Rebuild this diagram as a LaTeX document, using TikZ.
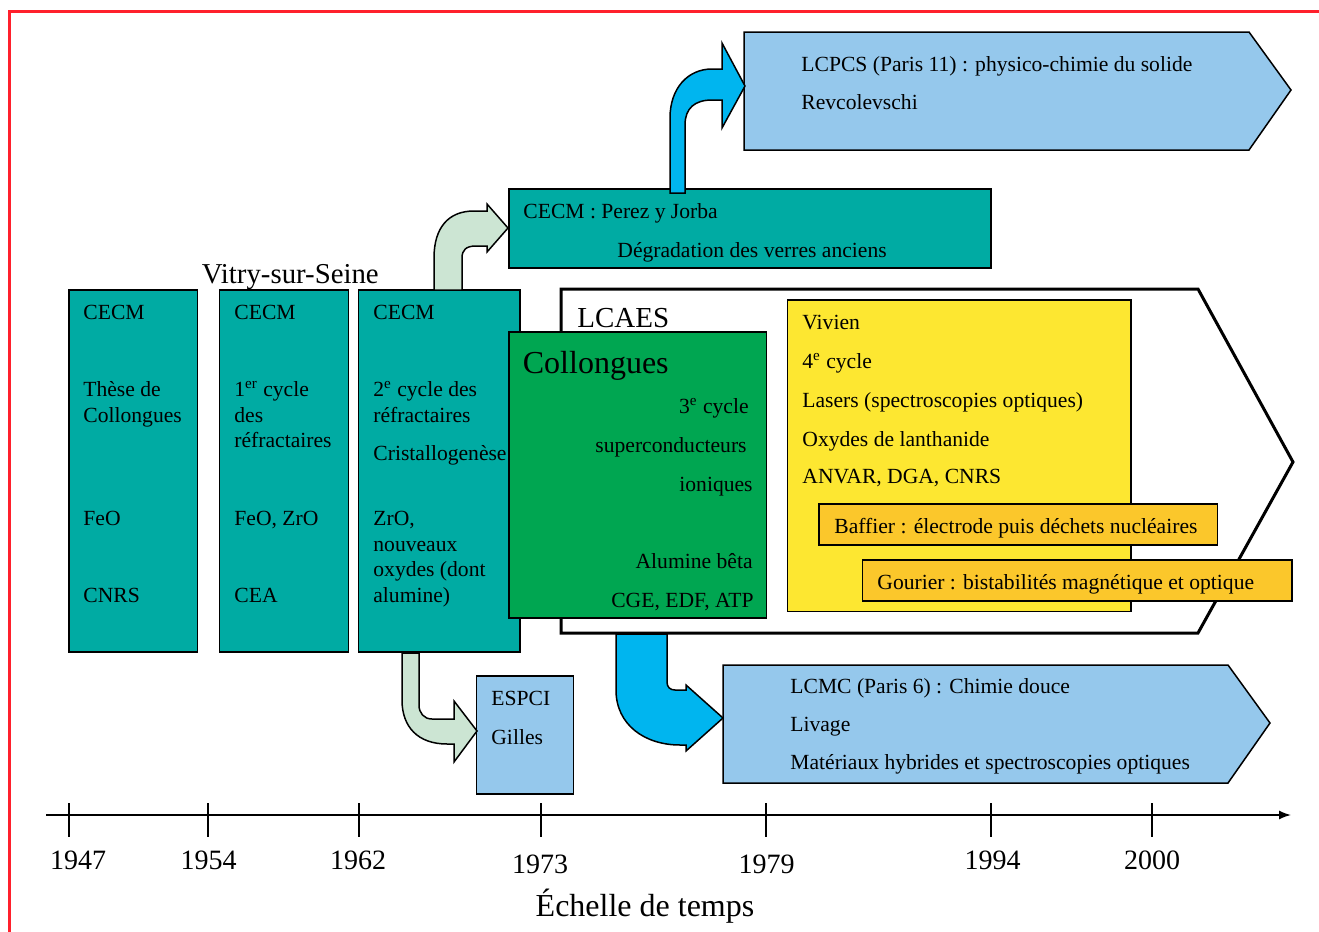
\documentclass[tikz,border=0pt]{standalone}
\usepackage{fontspec}
\setmainfont{Liberation Serif}
\usetikzlibrary{fit,arrows.meta}

\definecolor{cecmteal}{RGB}{0,171,163}
\definecolor{collgreen}{RGB}{0,166,81}
\definecolor{vivyellow}{RGB}{253,231,49}
\definecolor{teamorange}{RGB}{251,199,43}
\definecolor{labblue}{RGB}{149,200,236}
\definecolor{flowcyan}{RGB}{0,181,239}
\definecolor{flowmint}{RGB}{204,229,211}
\definecolor{framered}{RGB}{255,32,44}

\tikzset{
	box/.style={draw=black, line width=0.75pt, inner sep=0pt},
	txt/.style={anchor=base west, inner sep=0pt, font=\fontsize{10.8}{13}\selectfont},
	rtxt/.style={txt, anchor=base east},
	year/.style={anchor=base, inner sep=0pt, font=\fontsize{14}{16}\selectfont},
	fat/.style={line width=0.75pt, line join=miter},
}

\begin{document}
\begin{tikzpicture}[x=0.5pt,y=-0.5pt]
		\useasboundingbox (0,0) rectangle (1319,932);
		
		% Frame
		\draw[framered, line width=1.5pt] (9,932) -- (9,11.5) -- (1319,11.5);
		
		% Vitry-sur-Seine
		\node[txt, font=\fontsize{14.4}{16}\selectfont] (vitry) at (201.5,283) {Vitry-sur-Seine};
		
		% CECM 1947
		\node[box, fill=cecmteal, fit={(69,290) (197.5,652)}] (cecmA) {};
		\foreach \y/\t [count=\i] in {319.5/CECM, 396.5/Thèse de, 422/Collongues, 525.5/FeO, 602/CNRS}
			\node[txt] (cecmA-\i) at (83,\y) {\t};
		
		% CECM 1954
		\node[box, fill=cecmteal, fit={(219.5,290) (348.5,652)}] (cecmB) {};
		\foreach \y/\t [count=\i] in {319.5/CECM, 396.5/1\textsuperscript{er} cycle, 422/des, 447/réfractaires, 525.5/{FeO, ZrO}, 602/CEA}
			\node[txt] (cecmB-\i) at (234,\y) {\t};
		
		% CECM 1962
		\node[box, fill=cecmteal, fit={(358.5,290) (520,652)}] (cecmC) {};
		\foreach \y/\t [count=\i] in {319.5/CECM, 396.5/2\textsuperscript{e} cycle des, 422/réfractaires, 460/Cristallogenèse, 525.5/{ZrO,}, 551/nouveaux, 576/oxydes (dont, 602/alumine)}
			\node[txt] (cecmC-\i) at (373,\y) {\t};
		
		% CECM Perez y Jorba
		\node[box, fill=cecmteal, fit={(509,189) (991,268)}] (perez) {};
		\node[txt] (perez-1) at (523,218.5) {CECM : Perez y Jorba};
		\node[txt] (perez-2) at (617,257) {Dégradation des verres anciens};
		
		% LCPCS
		\filldraw[fill=labblue, line width=0.75pt] (744,32) -- (1249,32) -- (1291,90) -- (1249,150) -- (744,150) -- cycle;
		\node[txt] (lcpcs-1) at (801,71) {LCPCS (Paris 11) : physico-chimie du solide};
		\node[txt] (lcpcs-2) at (801,109.5) {Revcolevschi};
		
		% LCAES
		\filldraw[fill=white, line width=1.5pt] (561,289) -- (1198,289) -- (1293,462) -- (1198,633) -- (561,633) -- cycle;
		\node[txt, font=\fontsize{14.5}{16}\selectfont] (lcaes) at (577,327) {LCAES};
		
		% Collongues
		\node[box, fill=collgreen, fit={(509,332) (766.5,618)}] (coll) {};
		\node[txt, font=\fontsize{16}{18}\selectfont] (coll-0) at (522.5,373) {Collongues};
		\foreach \x/\y/\t [count=\i] in {749/413.5/3\textsuperscript{e} cycle, 747/452/superconducteurs, 753/491/ioniques, 753/568.5/Alumine bêta, 754/607/{CGE, EDF, ATP}}
			\node[rtxt] (coll-\i) at (\x,\y) {\t};
		
		% Vivien
		\node[box, fill=vivyellow, fit={(787.5,300) (1131,611.5)}] (vivien) {};
		\foreach \y/\t [count=\i] in {329.5/Vivien, 368.5/4\textsuperscript{e} cycle, 407.5/Lasers (spectroscopies optiques), 446/Oxydes de lanthanide, 483.5/{ANVAR, DGA, CNRS}}
			\node[txt] (vivien-\i) at (802,\y) {\t};
		
		% Baffier
		\node[box, fill=teamorange, fit={(819,504) (1217.5,545)}] (baffier) {};
		\node[txt] (baffier-1) at (834,533.5) {Baffier : électrode puis déchets nucléaires};
		
		% Gourier
		\node[box, fill=teamorange, fit={(862.5,560) (1292,601)}] (gourier) {};
		\node[txt] (gourier-1) at (877,589.5) {Gourier : bistabilités magnétique et optique};
		
		% LCMC
		\filldraw[fill=labblue, line width=0.75pt] (723,665) -- (1228,665) -- (1270,723) -- (1228,783) -- (723,783) -- cycle;
		\foreach \y/\t [count=\i] in {693.5/LCMC (Paris 6) : Chimie douce, 731.5/Livage, 769.5/Matériaux hybrides et spectroscopies optiques}
			\node[txt] (lcmc-\i) at (790,\y) {\t};
		
		% ESPCI
		\node[box, fill=labblue, fit={(476.5,676) (573.5,794)}] (espci) {};
		\node[txt] (espci-1) at (491,705) {ESPCI};
		\node[txt] (espci-2) at (491,744) {Gilles};
		
		% Arrow from CECM 1962 to Perez y Jorba
		\filldraw[fat, fill=flowmint] (434,290) -- (434,258) .. controls (434,228) and (448,211) .. (474,211) -- (487,211) -- (487,204) -- (508,228) -- (487,252) -- (487,246) -- (476,246) .. controls (466,246) and (462,250) .. (462,258) -- (462,290) -- cycle;
		
		% Arrow from Perez y Jorba to LCPCS
		\filldraw[fat, fill=flowcyan] (670,193) -- (670,118) .. controls (670,88) and (688,69) .. (712,69) -- (722,69) -- (722,43) -- (745,86) -- (722,128) -- (722,100) -- (712,100) .. controls (695,100) and (685,108) .. (685,125) -- (685,193) -- cycle;
		
		% Arrow from CECM 1962 to ESPCI
		\filldraw[fat, fill=flowmint] (402,653) -- (402,700) .. controls (402,727) and (418,744) .. (447,744) -- (454,744) -- (454,762) -- (477,731) -- (454,701) -- (454,719) -- (432,719) .. controls (424,719) and (419,713) .. (419,705) -- (419,653) -- cycle;
		
		% Arrow from LCAES to LCMC
		\filldraw[fat, fill=flowcyan] (616,634) -- (616,690) .. controls (616,725) and (645,745) .. (680,745) -- (686,745) -- (686,751) -- (723,718) -- (686,685) -- (686,690) -- (675,690) .. controls (670,690) and (667,687) .. (667,682) -- (667,634) -- cycle;
		
		% Time scale
		\coordinate (tstart) at (46,815);
		\coordinate (tend) at (1291,815);
		\draw[line width=0.75pt, -{Latex[length=6pt,width=4.5pt]}] (tstart) -- (tend);
		\foreach \tx/\lx/\ly/\yr in {69/78/869/1947, 208/208.5/869/1954, 359/358/869/1962, 541/540/873/1973, 766/766.5/873/1979, 991/992.5/869/1994, 1152/1152/869/2000}{
			\draw[line width=0.75pt] (\tx,803) -- (\tx,837);
			\node[year] (yr\yr) at (\lx,\ly) {\yr};
		}
		\node[year, font=\fontsize{16}{18}\selectfont] (echelle) at (645,916) {Échelle de temps};
	\end{tikzpicture}
\end{document}
